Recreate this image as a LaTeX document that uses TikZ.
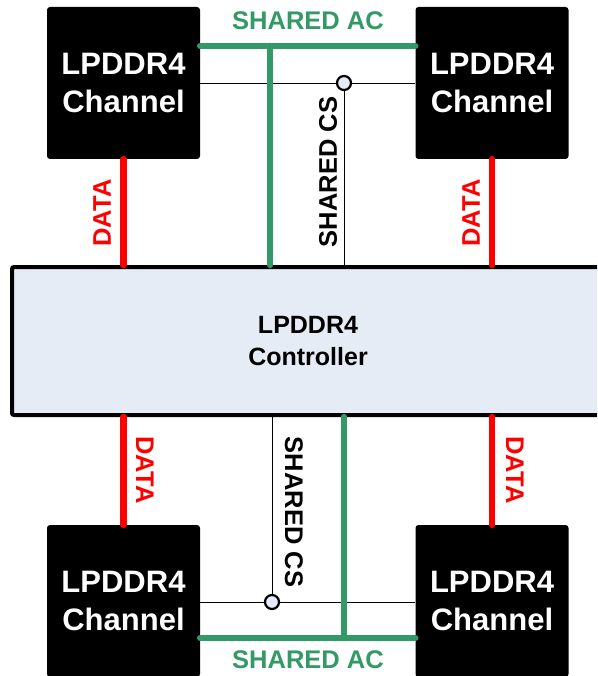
\documentclass[tikz,border=0pt]{standalone}
\usepackage{fontspec}
\setmainfont{Liberation Sans}
\usetikzlibrary{positioning,calc}
\definecolor{acgreen}{HTML}{339966}
\definecolor{ctrlfill}{HTML}{E6ECF6}

\begin{document}
\begin{tikzpicture}[x=1pt,y=-1pt,
    chan/.style={fill=black,rounded corners=3pt,minimum width=153pt,minimum height=152pt,
      text=white,font=\bfseries\fontsize{31}{38}\selectfont,align=center,inner sep=0pt},
    ctrlbox/.style={draw=black,line width=4pt,fill=ctrlfill,rounded corners=2pt,
      minimum width=592pt,minimum height=148pt,font=\bfseries\fontsize{25}{32}\selectfont,align=center},
    dataline/.style={red,line width=6.5pt,line cap=round},
    acline/.style={acgreen,line width=6.5pt,line cap=round},
    csline/.style={black,line width=0.8pt},
    tap/.style={circle,draw=black,line width=2.2pt,fill=ctrlfill,inner sep=0pt,minimum size=14pt},
    lbl/.style={font=\bfseries\fontsize{25.5}{28}\selectfont,inner sep=0pt}]
        \clip (0,0) rectangle (597,676);
        \useasboundingbox (0,0) rectangle (597,676);

        % blocks
        \node[ctrlbox] (ctrl) at (308,341) {LPDDR4\\Controller};
        \node[chan] (chTL) at (123.5,83) {LPDDR4\\Channel};
        \node[chan] (chTR) at (492,83) {LPDDR4\\Channel};
        \node[chan] (chBL) at (123.5,601) {LPDDR4\\Channel};
        \node[chan] (chBR) at (492,601) {LPDDR4\\Channel};

        % data buses
        \draw[dataline] (chTL.south) -- (chTL.south |- ctrl.north);
        \draw[dataline] (chTR.south) -- (chTR.south |- ctrl.north);
        \draw[dataline] (chBL.north) -- (chBL.north |- ctrl.south);
        \draw[dataline] (chBR.north) -- (chBR.north |- ctrl.south);
        \node[lbl,red,rotate=90] (dataTL) at (102,213) {DATA};
        \node[lbl,red,rotate=90] (dataTR) at (471,213) {DATA};
        \node[lbl,red,rotate=-90] (dataBL) at (145,470) {DATA};
        \node[lbl,red,rotate=-90] (dataBR) at (515,470) {DATA};

        % shared chip select
        \draw[csline] (chTL.east) -- (chTR.west);
        \node[tap] (csT) at (344,83) {};
        \draw[csline] (csT.south) -- (csT.south |- ctrl.north);
        \draw[csline] ([yshift=-1pt]chBL.east) -- ([yshift=-1pt]chBR.west);
        \node[tap] (csB) at (272,602) {};
        \draw[csline] (csB.north) -- (csB.north |- ctrl.south);
        \node[lbl,rotate=90] (csTlbl) at (328,172) {SHARED CS};
        \node[lbl,rotate=-90] (csBlbl) at (294,512) {SHARED CS};

        % shared address/command
        \draw[acline] ([yshift=37pt]chTL.east) -- ([yshift=37pt]chTR.west);
        \coordinate (acT) at (270,46);
        \draw[acline] (acT) -- (acT |- ctrl.north);
        \draw[acline] ([yshift=-37pt]chBL.east) -- ([yshift=-37pt]chBR.west);
        \coordinate (acB) at (344,638);
        \draw[acline] (acB) -- (acB |- ctrl.south);
        \node[lbl,text=acgreen] (acTlbl) at (308,21) {SHARED AC};
        \node[lbl,text=acgreen] (acBlbl) at (308,660) {SHARED AC};
      \end{tikzpicture}
\end{document}
